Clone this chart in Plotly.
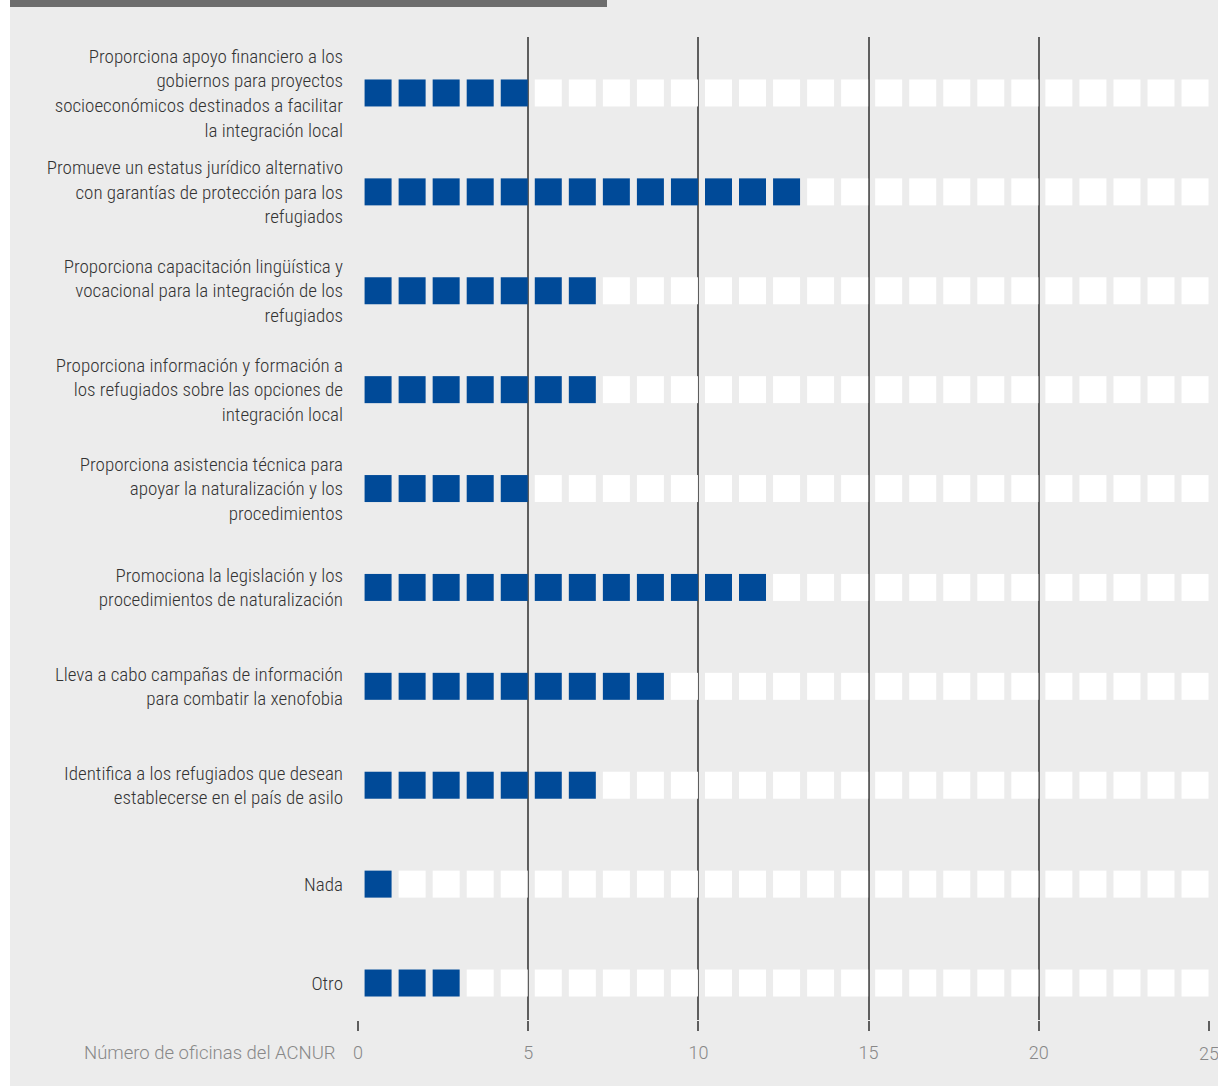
import plotly.graph_objects as go

# categories, top to bottom
categorias = [
    "Proporciona apoyo financiero a los<br>gobiernos para proyectos<br>socioeconómicos destinados a facilitar<br>la integración local",
    "Promueve un estatus jurídico alternativo<br>con garantías de protección para los<br>refugiados",
    "Proporciona capacitación lingüística y<br>vocacional para la integración de los<br>refugiados",
    "Proporciona información y formación a<br>los refugiados sobre las opciones de<br>integración local",
    "Proporciona asistencia técnica para<br>apoyar la naturalización y los<br>procedimientos",
    "Promociona la legislación y los<br>procedimientos de naturalización",
    "Lleva a cabo campañas de información<br>para combatir la xenofobia",
    "Identifica a los refugiados que desean<br>establecerse en el país de asilo",
    "Nada",
    "Otro",
]
oficinas = [5, 13, 7, 7, 5, 12, 9, 7, 1, 3]
total = 25
xticks = [0, 5, 10, 15, 20, 25]

AZUL = "#004a98"
FONDO = "#ececec"

# one square per office, filled (blue) or empty (white)
bx, by, wx, wy = [], [], [], []
for fila, n in enumerate(oficinas):
    for i in range(total):
        if i < n:
            bx.append(i + 0.59); by.append(fila)
        else:
            wx.append(i + 0.59); wy.append(fila)

fig = go.Figure()
fig.add_trace(go.Scatter(x=wx, y=wy, mode="markers", hoverinfo="skip",
                         marker=dict(symbol="square", size=27, color="white", line=dict(width=0))))
fig.add_trace(go.Scatter(x=bx, y=by, mode="markers",
                         marker=dict(symbol="square", size=27, color=AZUL, line=dict(width=0))))

W, H = 1218, 1086
L, R, T, B = 358, 9, 37, 66
pw, ph = W - L - R, H - T - B

def px(x):
    return (x - L) / pw

def py(y):
    return 1 - (y - T) / ph

fuente_eje = dict(family="Roboto, Liberation Sans, sans-serif", size=18, color="#888888", weight=300)

# last tick label sits on the page edge, plotly would hide it: draw it as annotation
textos_x = [str(v) for v in xticks[:-1]] + [""]

fig.update_layout(
    width=W, height=H,
    margin=dict(l=L, r=R, t=T, b=B),
    paper_bgcolor=FONDO, plot_bgcolor=FONDO,
    showlegend=False,
    xaxis=dict(range=[0, total], tickvals=xticks, ticktext=textos_x, showgrid=True, gridcolor="#5e5e5e",
               gridwidth=1.5, zeroline=False, ticks="outside", ticklen=10, tickcolor="#5e5e5e", tickwidth=1.5,
               tickfont=fuente_eje, ticklabelstandoff=6, fixedrange=True),
    yaxis=dict(range=[len(categorias) - 1 + 0.374, -0.566], tickvals=list(range(len(categorias))),
               ticktext=categorias, showgrid=False, zeroline=False,
               tickfont=dict(family="Roboto Condensed, Liberation Sans Narrow, sans-serif", size=19,
                             color="#333333", weight=300),
               ticklabelstandoff=14, fixedrange=True),
    shapes=[
        dict(type="rect", xref="paper", yref="paper", x0=px(0), x1=px(10), y0=py(H), y1=py(0),
             fillcolor="white", line=dict(width=0), layer="below"),
        dict(type="rect", xref="paper", yref="paper", x0=px(10), x1=px(607), y0=py(7), y1=py(-2),
             fillcolor="#6d6d6d", line=dict(width=0), layer="below"),
    ],
    annotations=[
        dict(text="Número de oficinas del ACNUR", xref="paper", yref="paper", x=px(338), y=py(1053),
             xanchor="right", yanchor="middle", showarrow=False,
             font=dict(fuente_eje, size=18.5)),
        dict(text=str(xticks[-1]), xref="x", yref="paper", x=xticks[-1], y=py(1053),
             xanchor="center", yanchor="middle", showarrow=False, font=fuente_eje),
    ],
)

fig.write_html("out.html", config={"displayModeBar": False},
               post_script="document.body.style.margin='0';")
